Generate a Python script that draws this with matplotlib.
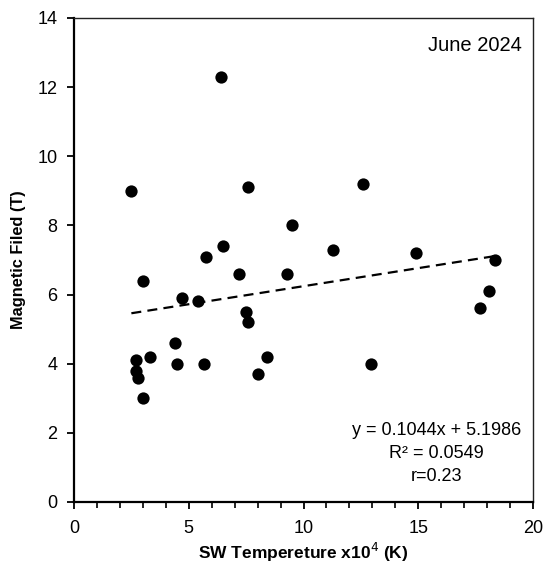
import matplotlib
matplotlib.use("Agg")
import matplotlib.pyplot as plt
from matplotlib import font_manager
import numpy as np

# Data
temperature = [2.5, 6.4, 7.6, 12.6, 9.5, 6.5, 11.3, 5.75, 14.9, 18.35,
               3.0, 7.2, 9.3, 4.7, 5.4, 7.5, 7.6, 18.1, 17.7, 4.4,
               3.3, 8.4, 2.7, 4.5, 5.65, 12.95, 2.7, 2.8, 8.0, 3.0]
magnetic = [9.0, 12.3, 9.1, 9.2, 8.0, 7.4, 7.3, 7.1, 7.2, 7.0,
            6.4, 6.6, 6.6, 5.9, 5.8, 5.5, 5.2, 6.1, 5.6, 4.6,
            4.2, 4.2, 4.1, 4.0, 4.0, 4.0, 3.8, 3.6, 3.7, 3.0]
slope = 0.1044
intercept = 5.1986
x_ticks = [0, 5, 10, 15, 20]
y_ticks = [0, 2, 4, 6, 8, 10, 12, 14]

names = {f.name for f in font_manager.fontManager.ttflist}
fam = 'Liberation Sans Narrow' if 'Liberation Sans Narrow' in names else 'Liberation Sans'
plt.rcParams['font.family'] = [fam, 'DejaVu Sans']

fig = plt.figure(figsize=(5.44, 5.71), dpi=100)
ax = fig.add_axes([74/544, 69/571, (533-74)/544, (502-18)/571])

ax.scatter(temperature, magnetic, s=78, color='black', zorder=3, linewidths=0)

xs = np.array([min(temperature), max(temperature)])
ax.plot(xs, slope*xs + intercept, color='black', lw=1.6,
        linestyle=(0, (4.5, 2.8)), zorder=2)

ax.set_xlim(0, 20)
ax.set_ylim(0, 14)
ax.set_xticks(x_ticks)
ax.set_xticks(np.arange(0, 21, 1), minor=True)
ax.set_yticks(y_ticks)
ax.tick_params(axis='x', which='major', direction='out', length=5, width=1.3, labelsize=13, pad=8)
ax.tick_params(axis='x', which='minor', direction='out', length=4, width=1.2)
ax.tick_params(axis='y', which='major', direction='out', length=5, width=1.3, labelsize=13, pad=7)

for s in ['left', 'bottom']:
    ax.spines[s].set_linewidth(1.6)
for s in ['top', 'right']:
    ax.spines[s].set_linewidth(1.0)
    ax.spines[s].set_color('#222222')

ax.set_xlabel('SW Tempereture x10$^4$ (K)', fontsize=12.5, fontweight='bold', labelpad=3)
ax.set_ylabel('Magnetic Filed (T)', fontsize=11.8, fontweight='bold', labelpad=8)

ax.text(0.975, 0.963, 'June 2024', transform=ax.transAxes, ha='right', va='top', fontsize=14.5)
ax.text(0.79, 0.035, 'y = 0.1044x + 5.1986\nR² = 0.0549\nr=0.23', transform=ax.transAxes,
        ha='center', va='bottom', fontsize=13, linespacing=1.45, multialignment='center')

fig.savefig('out.png', dpi=100)
